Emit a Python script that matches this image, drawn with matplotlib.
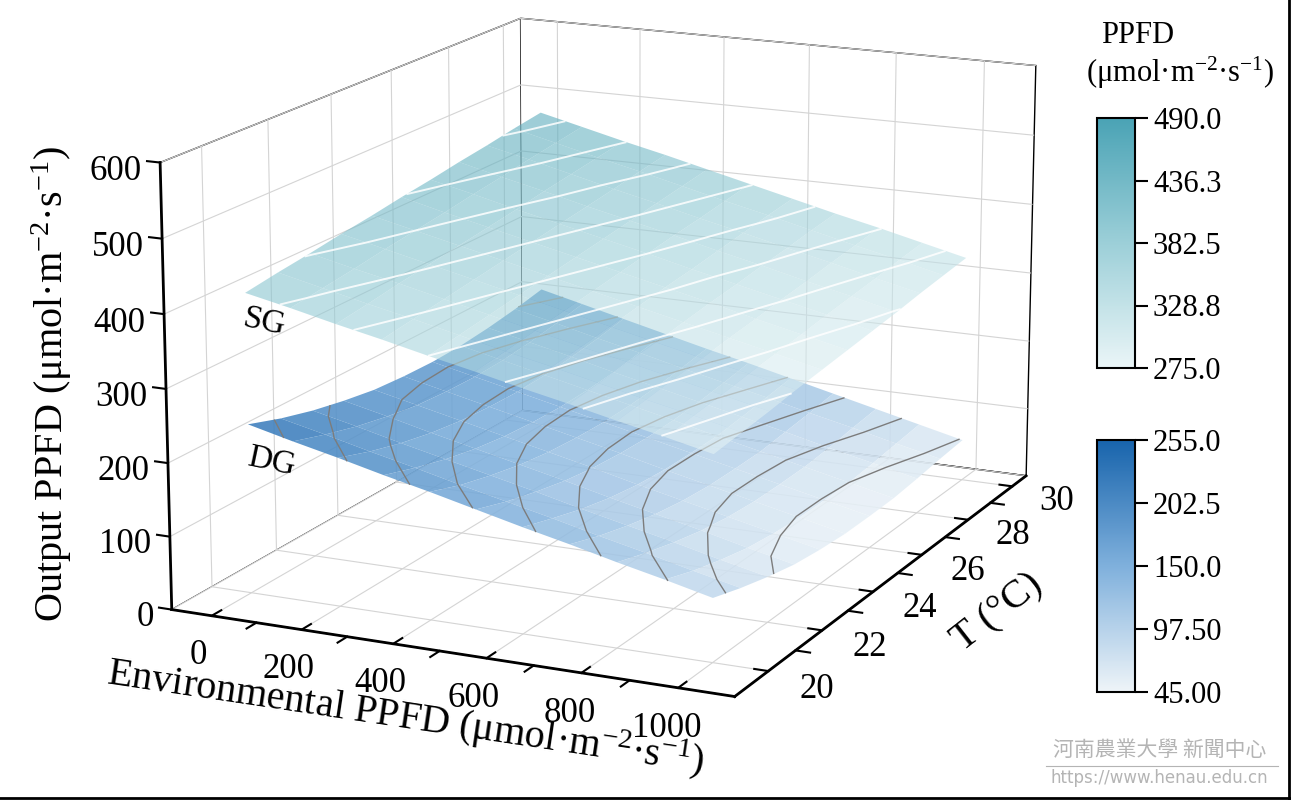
import numpy as np
import matplotlib
matplotlib.use('Agg')
import matplotlib.pyplot as plt
from matplotlib.colors import LinearSegmentedColormap, Normalize
from matplotlib.cm import ScalarMappable
from matplotlib.lines import Line2D

plt.rcParams['font.family'] = ['Liberation Serif', 'DejaVu Serif']
plt.rcParams['mathtext.fontset'] = 'custom'
plt.rcParams['mathtext.rm'] = 'Liberation Serif'
plt.rcParams['mathtext.it'] = 'Liberation Serif:italic'
plt.rcParams['grid.color'] = '#d4d4d4'
plt.rcParams['grid.linewidth'] = 0.8

# ---- datos ----
env_ppfd = [0, 100, 200, 300, 400, 500, 600, 700, 800, 900, 1000]
temp = [20, 21, 22, 23, 24, 25, 26, 27, 28, 29, 30]

# SG: filas = T, columnas = PPFD ambiental
sg_ppfd = [
    [410, 397, 383, 370, 356, 343, 329, 316, 302, 289, 275],
    [417, 403, 389, 376, 362, 348, 335, 321, 307, 294, 280],
    [423, 409, 396, 382, 368, 354, 340, 327, 313, 299, 285],
    [430, 416, 402, 388, 374, 360, 346, 332, 318, 305, 291],
    [436, 422, 408, 394, 380, 366, 352, 338, 324, 310, 296],
    [443, 428, 414, 400, 386, 372, 358, 344, 329, 315, 301],
    [449, 435, 420, 406, 392, 378, 363, 349, 335, 321, 306],
    [456, 441, 427, 412, 398, 384, 369, 355, 340, 326, 311],
    [462, 448, 433, 418, 404, 389, 375, 360, 346, 331, 317],
    [469, 454, 439, 425, 410, 395, 381, 366, 351, 337, 322],
    [475, 460, 445, 431, 416, 401, 386, 371, 357, 342, 327],
]

# DG: filas = T, columnas = PPFD ambiental
dg_ppfd = [
    [232, 217, 203, 188, 174, 159, 144, 130, 115, 101, 86],
    [217, 203, 188, 174, 159, 145, 131, 116, 102, 87, 73],
    [205, 191, 176, 162, 148, 134, 119, 105, 91, 76, 62],
    [196, 182, 167, 153, 139, 125, 110, 96, 82, 67, 53],
    [189, 175, 161, 147, 133, 119, 104, 90, 76, 62, 48],
    [186, 172, 158, 144, 130, 116, 101, 87, 73, 59, 45],
    [185, 171, 157, 143, 129, 115, 101, 87, 73, 59, 45],
    [187, 173, 159, 145, 131, 117, 102, 88, 74, 60, 46],
    [192, 178, 164, 149, 135, 121, 107, 93, 78, 64, 50],
    [199, 185, 170, 156, 141, 127, 113, 98, 84, 69, 55],
    [208, 193, 178, 163, 148, 134, 119, 104, 89, 74, 59],
]

sg_range = [275.0, 490.0]
dg_range = [45.0, 255.0]
sg_ticklabels = ['275.0', '328.8', '382.5', '436.3', '490.0']
dg_ticklabels = ['45.00', '97.50', '150.0', '202.5', '255.0']

x_major = [0, 200, 400, 600, 800, 1000]
x_minor = [100, 300, 500, 700, 900]
t_major = [20, 22, 24, 26, 28, 30]
t_minor = [21, 23, 25, 27, 29]
z_major = [0, 100, 200, 300, 400, 500, 600]

xlim = (-90, 1115)
tlim = (18.8, 30.65)
zlim = (0, 600)

# mapas de color
sg_cmap = LinearSegmentedColormap.from_list('sg', ['#eaf5f7', '#9ccfd8', '#4aa3b5'])
dg_cmap = LinearSegmentedColormap.from_list('dg', ['#eef4f8', '#7fb0dc', '#1864ac'])
sg_norm = Normalize(*sg_range)
dg_norm = Normalize(*dg_range)

fig = plt.figure(figsize=(12.91, 8.0), dpi=100)
ax = fig.add_axes([0.04, 0.035, 0.86, 1.08], projection='3d', computed_zorder=False)
ax.set_box_aspect((1.38, 1.79, 1.03), zoom=1.2)
ax.view_init(elev=15, azim=-65)

X, Y = np.meshgrid(env_ppfd, temp)
Z_sg = np.array(sg_ppfd, dtype=float)
Z_dg = np.array(dg_ppfd, dtype=float)

ax.plot_surface(X, Y, Z_dg, cmap=dg_cmap, norm=dg_norm, rstride=1, cstride=1,
                linewidth=0, antialiased=True, shade=False, alpha=0.88, zorder=2)
ax.contour(X, Y, Z_dg, levels=np.arange(60, 235, 20), colors='#7c7c7c',
           linewidths=1.0, zorder=3)
ax.plot_surface(X, Y, Z_sg, cmap=sg_cmap, norm=sg_norm, rstride=1, cstride=1,
                linewidth=0, antialiased=True, shade=False, alpha=0.6, zorder=4)
ax.contour(X, Y, Z_sg, levels=np.arange(290, 475, 22), colors='white',
           linewidths=1.4, alpha=0.85, zorder=5)

ax.set_xlim(*xlim)
ax.set_ylim(*tlim)
ax.set_zlim(*zlim)
ax.set_xticks(x_major)
ax.set_yticks(t_major)
ax.set_zticks(z_major)
ax.set_yticklabels([''] * len(t_major))
ax.set_zticklabels([''] * len(z_major))
ax.zaxis.set_ticks_position('lower')
ax.zaxis._get_tickdir = lambda position: 0   # ticks de z horizontales hacia la izquierda
ax.tick_params(axis='both', labelsize=25, width=1.5)
ax.tick_params(axis='x', pad=3)
for axis in (ax.yaxis, ax.zaxis):
    for tk in axis.get_major_ticks():
        tk.label1.set_visible(False)
        tk.label2.set_visible(False)

for axis in (ax.xaxis, ax.yaxis, ax.zaxis):
    axis.set_pane_color((1, 1, 1, 1))
    axis.pane.set_edgecolor('black')
    axis.pane.set_linewidth(1.0)
    axis.line.set_color('black')
    axis.line.set_linewidth(2.0)
    axis.label.set_visible(False)
    axis.offsetText.set_visible(False)
    axis._axinfo['tick']['inward_factor'] = 0.0
    axis._axinfo['tick']['outward_factor'] = 0.3
    axis._axinfo['tick']['linewidth'] = {True: 1.5, False: 1.0}

# ticks menores a mano (mismo largo que los mayores)
dt = 0.3 * (tlim[1] - tlim[0]) / 12
dx = 0.3 * (xlim[1] - xlim[0]) / 12
for xm in x_minor:
    ax.plot([xm, xm], [tlim[0], tlim[0] - dt], [0, 0], color='black', lw=1.5, zorder=6)
for tm in t_minor:
    ax.plot([xlim[1], xlim[1] + dx], [tm, tm], [0, 0], color='black', lw=1.5, zorder=6)

# etiquetas de ticks de T y de z colocadas a mano
for t in t_major:
    ax.text(xlim[1] + 100, t, -14, str(t), fontsize=25, ha='center', va='center', zorder=7)
for z in z_major:
    ax.text(xlim[0] - 42, tlim[0], z - 15, str(z), fontsize=25, ha='right', va='center', zorder=7)

# etiquetas de ejes
fig.text(0.314, 0.103, 'Environmental PPFD (\u03bcmol\u00b7m$^{-2}$\u00b7s$^{-1}$)',
         fontsize=29, rotation=-8.5, ha='center', va='center')
fig.text(0.04, 0.52, 'Output PPFD (\u03bcmol\u00b7m$^{-2}$\u00b7s$^{-1}$)',
         fontsize=29, rotation=90, ha='center', va='center')
fig.text(0.773, 0.234, 'T (\u00b0C)', fontsize=29, rotation=38, ha='center', va='center')

fig.text(0.205, 0.597, 'SG', fontsize=24, rotation=-12, ha='center', va='center')
fig.text(0.210, 0.423, 'DG', fontsize=24, rotation=-12, ha='center', va='center')

# barras de color
cax1 = fig.add_axes([0.8497, 0.54, 0.0294, 0.3125])
cb1 = fig.colorbar(ScalarMappable(norm=sg_norm, cmap=sg_cmap), cax=cax1)
cax2 = fig.add_axes([0.8497, 0.135, 0.0294, 0.315])
cb2 = fig.colorbar(ScalarMappable(norm=dg_norm, cmap=dg_cmap), cax=cax2)
for cb, rng, labs in ((cb1, sg_range, sg_ticklabels), (cb2, dg_range, dg_ticklabels)):
    cb.set_ticks(np.linspace(rng[0], rng[1], len(labs)))
    cb.set_ticklabels(labs)
    cb.outline.set_linewidth(1.5)
    cb.ax.tick_params(length=9, width=1.5, labelsize=22, pad=4)

fig.text(0.881, 0.956, 'PPFD', fontsize=22, ha='center', va='center')
fig.text(0.914, 0.909, '(\u03bcmol\u00b7m$^{-2}$\u00b7s$^{-1}$)', fontsize=22,
         ha='center', va='center')

# marca de agua
fig.text(0.898, 0.062, '河南農業大學 新聞中心', fontsize=15, color='#b4b4b4',
         ha='center', va='center', family=['Noto Sans CJK TC', 'DejaVu Sans'])
fig.add_artist(Line2D([0.81, 0.99], [0.043, 0.043], transform=fig.transFigure,
                      color='#b4b4b4', lw=0.8))
fig.text(0.898, 0.027, 'https://www.henau.edu.cn', fontsize=12, color='#b4b4b4',
         ha='center', va='center', family=['DejaVu Sans'])

# marco del recorte
fig.add_artist(Line2D([0.9985, 0.9985], [0, 1], transform=fig.transFigure, color='black', lw=2))
fig.add_artist(Line2D([0, 1], [0.0025, 0.0025], transform=fig.transFigure, color='black', lw=2))

fig.savefig('out.png', dpi=100, facecolor='white')
